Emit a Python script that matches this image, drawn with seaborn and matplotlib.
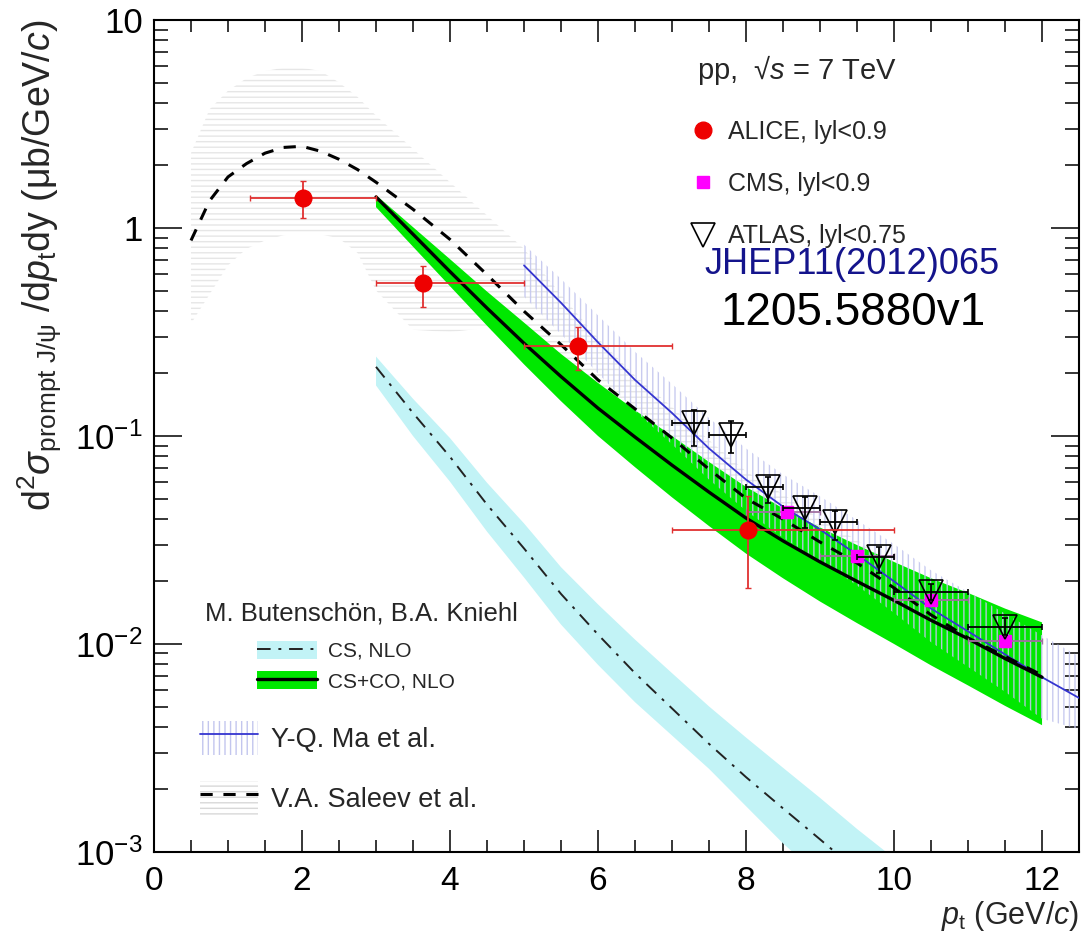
import numpy as np
import pandas as pd
import matplotlib
matplotlib.use("Agg")
import matplotlib.pyplot as plt
from matplotlib.lines import Line2D
from matplotlib.patches import Patch
from matplotlib.ticker import FixedLocator, LogLocator, NullFormatter, MultipleLocator
import seaborn as sns

# ---------------- measured data ----------------
# ALICE, |y|<0.9
alice_pt = [2.01, 3.64, 5.73, 8.03]
alice_xlo = [1.30, 3.0, 5.0, 7.0]
alice_xhi = [3.0, 5.0, 7.0, 10.0]
alice_y = [1.39, 0.545, 0.271, 0.0353]
alice_ylo = [1.12, 0.417, 0.207, 0.0186]
alice_yhi = [1.68, 0.656, 0.334, 0.0515]

# CMS, |y|<0.9
cms_pt = [8.55, 9.5, 10.5, 11.5]
cms_xlo = [8.0, 9.0, 10.0, 11.0]
cms_xhi = [9.0, 10.0, 11.0, 12.0]
cms_y = [0.0431, 0.0265, 0.0163, 0.0103]
cms_ylo = [0.0405, 0.0250, 0.0154, 0.0097]
cms_yhi = [0.0457, 0.0281, 0.0173, 0.0109]

# ATLAS, |y|<0.75
atlas_pt = [7.3, 7.8, 8.3, 8.8, 9.2, 9.8, 10.5, 11.5]
atlas_xlo = [7.0, 7.5, 8.0, 8.5, 9.0, 9.5, 10.0, 11.0]
atlas_xhi = [7.5, 8.0, 8.5, 9.0, 9.5, 10.0, 11.0, 12.0]
atlas_y = [0.1155, 0.101, 0.0569, 0.0451, 0.0386, 0.0262, 0.0178, 0.0121]
atlas_ylo = [0.0895, 0.0825, 0.0474, 0.0362, 0.0316, 0.0219, 0.0163, 0.0110]
atlas_yhi = [0.133, 0.1175, 0.0634, 0.0508, 0.0435, 0.0292, 0.0195, 0.0133]

# ---------------- theory ----------------
# Butenschoen & Kniehl, CS+CO NLO
csco_pt = [3.0, 3.5, 4.0, 4.5, 5.0, 5.5, 6.0, 6.5, 7.0, 7.5, 8.0, 8.5, 9.0, 9.5,
           10.0, 10.5, 11.0, 11.5, 12.0]
csco_y = [1.41, 0.933, 0.617, 0.412, 0.279, 0.193, 0.136, 0.0988, 0.0724, 0.0537,
          0.0403, 0.0313, 0.0248, 0.0200, 0.0162, 0.0130, 0.0106, 0.00851, 0.00692]
csco_hi = [1.44, 1.01, 0.708, 0.495, 0.351, 0.248, 0.180, 0.133, 0.100, 0.0750,
           0.0569, 0.0449, 0.0363, 0.0299, 0.0248, 0.0207, 0.0176, 0.0148, 0.0127]
csco_lo = [1.26, 0.813, 0.525, 0.339, 0.221, 0.147, 0.100, 0.0708, 0.0507, 0.0369,
           0.0272, 0.0207, 0.0160, 0.0126, 0.0100, 0.00789, 0.00632, 0.00504, 0.00407]

# Butenschoen & Kniehl, CS NLO
cs_pt = [3.0, 3.5, 4.0, 4.5, 5.0, 5.5, 6.0, 6.5, 7.0, 7.5, 8.0, 8.5, 9.0, 9.5, 10.0]
cs_y = [0.215, 0.129, 0.0794, 0.0468, 0.0288, 0.0174, 0.0111, 0.00724, 0.00490,
        0.00331, 0.00229, 0.00162, 0.00115, 0.000813, 0.000589]
cs_hi = [0.241, 0.151, 0.0977, 0.0596, 0.0380, 0.0234, 0.0155, 0.0105, 0.00724,
         0.00501, 0.00355, 0.00254, 0.00182, 0.00129, 0.000933]
cs_lo = [0.175, 0.100, 0.0603, 0.0347, 0.0209, 0.0124, 0.00794, 0.00525, 0.00363,
         0.00251, 0.00166, 0.00110, 0.000759, 0.000537, 0.000389]

# Y-Q. Ma et al.
ma_pt = [5.0, 5.5, 6.0, 6.5, 7.0, 7.5, 8.0, 8.5, 9.0, 9.5, 10.0, 10.5, 11.0, 11.5, 12.0, 12.5]
ma_y = [0.661, 0.437, 0.282, 0.186, 0.129, 0.0871, 0.0617, 0.0457, 0.0355, 0.0269,
        0.0200, 0.0148, 0.0115, 0.00891, 0.00692, 0.00550]
ma_hi = [0.832, 0.569, 0.380, 0.254, 0.178, 0.122, 0.0871, 0.0653, 0.0513, 0.0394,
         0.0302, 0.0226, 0.0178, 0.0140, 0.0110, 0.00871]
ma_lo = [0.468, 0.309, 0.200, 0.132, 0.0912, 0.0617, 0.0437, 0.0324, 0.0251, 0.0191,
         0.0141, 0.0102, 0.00776, 0.00589, 0.00437, 0.00389]

# V.A. Saleev et al.
sal_pt = [0.5, 0.75, 1.0, 1.25, 1.5, 1.75, 2.0, 2.25, 2.5, 2.75, 3.0, 3.5, 4.0, 4.5, 5.0,
          5.5, 6.0, 6.5, 7.0, 7.5, 8.0, 8.5, 9.0, 9.5, 10.0, 10.5, 11.0, 11.5, 12.0]
sal_y = [0.871, 1.35, 1.76, 2.04, 2.29, 2.44, 2.47, 2.34, 2.14, 1.91, 1.66, 1.23, 0.881,
         0.596, 0.398, 0.275, 0.186, 0.135, 0.0977, 0.0692, 0.0501, 0.0398, 0.0309,
         0.0245, 0.0186, 0.0138, 0.0107, 0.00871, 0.00708]
sal_hi = [2.29, 3.72, 4.57, 5.25, 5.69, 5.89, 5.89, 5.69, 5.01, 4.27, 3.47, 2.40, 1.66,
          1.15, 0.794, 0.479, 0.295, 0.195, 0.138, 0.0955, 0.0676, 0.0525, 0.0398,
          0.0316, 0.0240, 0.0178, 0.0138, 0.0112, 0.00912]
sal_lo = [0.347, 0.479, 0.661, 0.794, 0.871, 0.923, 0.944, 0.933, 0.891, 0.759, 0.501,
          0.324, 0.316, 0.331, 0.263, 0.182, 0.120, 0.0871, 0.0631, 0.0468, 0.0355,
          0.0282, 0.0219, 0.0174, 0.0135, 0.0105, 0.00832, 0.00692, 0.00575]

y_ticks = [1e-3, 1e-2, 1e-1, 1, 10]
y_ticklabels = [r"$10^{-3}$", r"$10^{-2}$", r"$10^{-1}$", "1", "10"]
x_ticks = [0, 2, 4, 6, 8, 10, 12]

# ---------------- style ----------------
sns.set_theme(style="ticks")
plt.rcParams["font.family"] = ["Liberation Sans", "DejaVu Sans"]
plt.rcParams["mathtext.fontset"] = "custom"
plt.rcParams["mathtext.rm"] = "Liberation Sans"
plt.rcParams["mathtext.it"] = "Liberation Sans:italic"
plt.rcParams["mathtext.bf"] = "Liberation Sans:bold"
plt.rcParams["hatch.linewidth"] = 1.0

GREEN = "#00e800"
CYAN = "#c2f3f6"
BLUE = "#3535d0"
MA_HATCH = "#c3c6ee"
SAL_HATCH = "#e6e6e6"

fig = plt.figure(figsize=(10.86, 9.35), dpi=100)
ax = fig.add_axes([0.1418, 0.0888, 0.8518, 0.8898])

# uncertainty bands
ax.fill_between(sal_pt, sal_lo, sal_hi, facecolor="white", edgecolor=SAL_HATCH,
                hatch="---", linewidth=0, zorder=1)
ax.fill_between(cs_pt, cs_lo, cs_hi, facecolor=CYAN, edgecolor="none", linewidth=0, zorder=2)
ax.fill_between(csco_pt, csco_lo, csco_hi, facecolor=GREEN, edgecolor="none", linewidth=0, zorder=3)
ax.fill_between(ma_pt, ma_lo, ma_hi, facecolor="none", edgecolor=MA_HATCH,
                hatch="|||", linewidth=0, zorder=4, alpha=0.9)

# central curves
df_csco = pd.DataFrame({"pt": csco_pt, "y": csco_y})
df_cs = pd.DataFrame({"pt": cs_pt, "y": cs_y})
df_ma = pd.DataFrame({"pt": ma_pt, "y": ma_y})
df_sal = pd.DataFrame({"pt": sal_pt, "y": sal_y})

sns.lineplot(data=df_cs, x="pt", y="y", ax=ax, color="#222222", lw=1.4,
             linestyle=(0, (7, 4, 1.5, 4)), estimator=None, zorder=5)
sns.lineplot(data=df_ma, x="pt", y="y", ax=ax, color=BLUE, lw=1.3, estimator=None, zorder=5)
sns.lineplot(data=df_sal, x="pt", y="y", ax=ax, color="black", lw=2.2,
             linestyle=(0, (4, 3.5)), estimator=None, zorder=6)
sns.lineplot(data=df_csco, x="pt", y="y", ax=ax, color="black", lw=2.4, estimator=None, zorder=6)


def asym(center, lo, hi):
    c = np.asarray(center)
    return [c - np.asarray(lo), np.asarray(hi) - c]


ax.errorbar(cms_pt, cms_y, xerr=asym(cms_pt, cms_xlo, cms_xhi), yerr=asym(cms_y, cms_ylo, cms_yhi),
            fmt="s", ms=9, mfc="#ff00ff", mec="#ff00ff", ecolor="#a070a0", elinewidth=1.3,
            capsize=2.5, zorder=8)
ax.errorbar(atlas_pt, atlas_y, xerr=asym(atlas_pt, atlas_xlo, atlas_xhi),
            yerr=asym(atlas_y, atlas_ylo, atlas_yhi),
            fmt="v", ms=17, mfc="none", mec="black", mew=1.2, ecolor="black", elinewidth=1.3,
            capsize=2.5, zorder=9)
ax.errorbar(alice_pt, alice_y, xerr=asym(alice_pt, alice_xlo, alice_xhi),
            yerr=asym(alice_y, alice_ylo, alice_yhi),
            fmt="o", ms=12, color="#ee0000", ecolor="#e03030", elinewidth=1.3, capsize=2.5, zorder=10)

# axes
ax.set_yscale("log")
ax.set_xlim(0, 12.5)
ax.set_ylim(1e-3, 10)
ax.xaxis.set_major_locator(FixedLocator(x_ticks))
ax.xaxis.set_minor_locator(MultipleLocator(0.5))
ax.yaxis.set_major_locator(FixedLocator(y_ticks))
ax.set_yticklabels(y_ticklabels)
ax.yaxis.set_minor_locator(LogLocator(base=10, subs=np.arange(2, 10)))
ax.yaxis.set_minor_formatter(NullFormatter())
ax.set_xticklabels([str(v) for v in x_ticks])

for s in ax.spines.values():
    s.set_linewidth(1.5)
    s.set_color("black")
ax.tick_params(axis="both", which="both", direction="in", top=True, right=True,
               width=1.1, colors="black", labelsize=25)
ax.tick_params(axis="x", which="major", length=16, pad=10, labelsize=24)
ax.tick_params(axis="x", which="minor", length=8.5)
ax.tick_params(axis="y", which="major", length=20, pad=8)
ax.tick_params(axis="y", which="minor", length=10)

ax.set_xlabel(r"$p_{\rm t}$ (GeV/$c$)", fontsize=22, loc="right")
ax.xaxis.set_label_coords(1.0, -0.056)
ax.set_ylabel(r"d$^{2}\sigma_{\rm prompt\ J/\psi}$ /d$p_{\rm t}$dy (μb/GeV/$c$)", fontsize=27, loc="top")
ax.yaxis.set_label_coords(-0.097, 1.0)

# annotations
ax.text(0.587, 0.94, "pp,  √$s$ = 7 TeV", transform=ax.transAxes, fontsize=21,
        va="center", ha="left")
ax.text(0.595, 0.706, "JHEP11(2012)065", transform=ax.transAxes, fontsize=26,
        color="#14148c", va="center", ha="left", zorder=12)
ax.text(0.612, 0.648, "1205.5880v1", transform=ax.transAxes, fontsize=33,
        color="black", va="center", ha="left", zorder=12)
ax.text(0.055, 0.287, "M. Butenschön, B.A. Kniehl", transform=ax.transAxes, fontsize=18.5,
        va="center", ha="left")

# legend: data
h_data = [
    Line2D([], [], ls="none", marker="o", ms=12, color="#ee0000"),
    Line2D([], [], ls="none", marker="s", ms=9, color="#ff00ff"),
    Line2D([], [], ls="none", marker="v", ms=17, mfc="none", mec="black", mew=1.2),
]
leg1 = ax.legend(h_data, ["ALICE, lyl<0.9", "CMS, lyl<0.9", "ATLAS, lyl<0.75"],
                 loc="upper left", bbox_to_anchor=(0.58, 0.88), frameon=False, fontsize=18,
                 handlelength=1.0, handletextpad=0.5, labelspacing=1.13, borderpad=0,
                 borderaxespad=0)
ax.add_artist(leg1)

# legend: Butenschoen & Kniehl
h_bk = [
    (Patch(facecolor=CYAN, edgecolor="none"),
     Line2D([], [], color="#222222", lw=1.4, linestyle=(0, (7, 4, 1.5, 4)))),
    (Patch(facecolor=GREEN, edgecolor="none"), Line2D([], [], color="black", lw=2.4)),
]
leg2 = ax.legend(h_bk, ["CS, NLO", "CS+CO, NLO"], loc="upper left",
                 bbox_to_anchor=(0.111, 0.254), frameon=False, fontsize=15,
                 handlelength=2.9, handleheight=0.95, handletextpad=0.5, labelspacing=0.5,
                 borderpad=0, borderaxespad=0)
ax.add_artist(leg2)

# legend: other calculations
h_oth = [
    (Patch(facecolor="white", edgecolor=MA_HATCH, hatch="|||", lw=0),
     Line2D([], [], color=BLUE, lw=1.3)),
    (Patch(facecolor="white", edgecolor="#d8d8d8", hatch="---", lw=0),
     Line2D([], [], color="black", lw=2.2, linestyle=(0, (4, 3.5)))),
]
leg3 = ax.legend(h_oth, ["Y-Q. Ma et al.", "V.A. Saleev et al."], loc="upper left",
                 bbox_to_anchor=(0.05, 0.158), frameon=False, fontsize=19.5,
                 handlelength=2.15, handleheight=1.6, handletextpad=0.45, labelspacing=0.95,
                 borderpad=0, borderaxespad=0)

fig.savefig("out.png", dpi=100)
